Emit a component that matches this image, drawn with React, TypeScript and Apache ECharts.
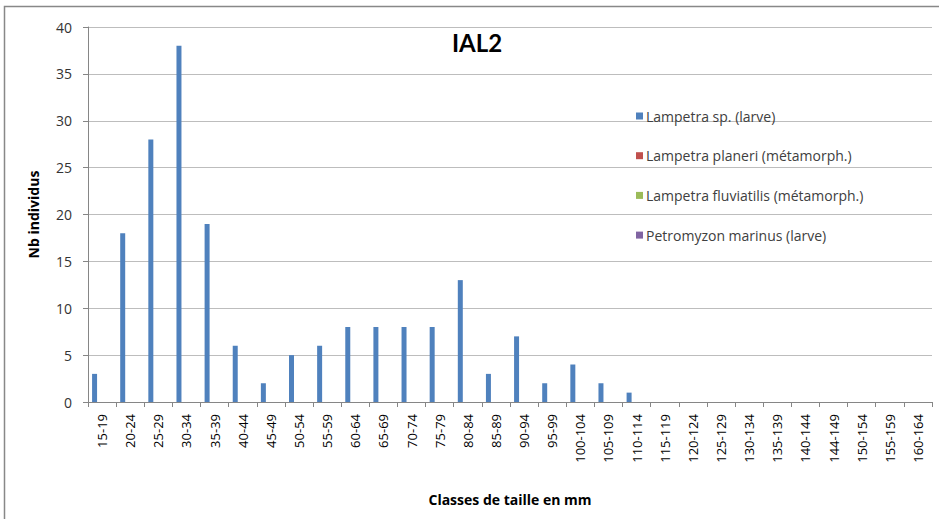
import React, { useEffect, useRef } from "react";
import * as echarts from "echarts";

const categories = [
  "15-19", "20-24", "25-29", "30-34", "35-39", "40-44", "45-49", "50-54", "55-59", "60-64",
  "65-69", "70-74", "75-79", "80-84", "85-89", "90-94", "95-99", "100-104", "105-109", "110-114",
  "115-119", "120-124", "125-129", "130-134", "135-139", "140-144", "144-149", "150-154", "155-159", "160-164",
];

const lampetraSpLarve = [3, 18, 28, 38, 19, 6, 2, 5, 6, 8, 8, 8, 8, 13, 3, 7, 2, 4, 2, 1, 0, 0, 0, 0, 0, 0, 0, 0, 0, 0];
const lampetraPlaneri = [0, 0, 0, 0, 0, 0, 0, 0, 0, 0, 0, 0, 0, 0, 0, 0, 0, 0, 0, 0, 0, 0, 0, 0, 0, 0, 0, 0, 0, 0];
const lampetraFluviatilis = [0, 0, 0, 0, 0, 0, 0, 0, 0, 0, 0, 0, 0, 0, 0, 0, 0, 0, 0, 0, 0, 0, 0, 0, 0, 0, 0, 0, 0, 0];
const petromyzonMarinus = [0, 0, 0, 0, 0, 0, 0, 0, 0, 0, 0, 0, 0, 0, 0, 0, 0, 0, 0, 0, 0, 0, 0, 0, 0, 0, 0, 0, 0, 0];

const seriesNames = [
  "Lampetra sp. (larve)",
  "Lampetra planeri (métamorph.)",
  "Lampetra fluviatilis (métamorph.)",
  "Petromyzon marinus (larve)",
];
const seriesColors = ["#4F81BD", "#C0504D", "#9BBB59", "#8064A2"];
const seriesData = [lampetraSpLarve, lampetraPlaneri, lampetraFluviatilis, petromyzonMarinus];

const FONT = "'Open Sans', 'Liberation Sans', sans-serif";
const TITLE_FONT = "Lato, 'Open Sans', sans-serif";

export default function App() {
  const ref = useRef<HTMLDivElement>(null);
  useEffect(() => {
    if (!ref.current) return;
    const chart = echarts.init(ref.current, null, { renderer: "svg" });
    chart.setOption({
      animation: false,
      backgroundColor: "#ffffff",
      textStyle: { fontFamily: FONT },
      graphic: [
        {
          type: "rect",
          shape: { x: 4.5, y: 6.5, width: 1000, height: 1000 },
          style: { fill: "none", stroke: "#888888", lineWidth: 1.5 },
          silent: true,
        },
        {
          type: "text",
          x: 477,
          y: 42,
          style: {
            text: "IAL2",
            fontFamily: TITLE_FONT,
            fontSize: 24,
            fontWeight: "bold",
            fill: "#000000",
            textAlign: "center",
            textVerticalAlign: "middle",
          },
        },
      ],
      legend: {
        orient: "vertical",
        left: 631,
        top: 102,
        itemWidth: 7,
        itemHeight: 7,
        itemGap: 21.7,
        icon: "rect",
        textStyle: { fontFamily: FONT, fontSize: 14, color: "#404040", lineHeight: 18, padding: [0, 0, 0, -2] },
        data: seriesNames,
      },
      grid: { left: 88, right: 7, top: 27, bottom: 117, containLabel: false },
      xAxis: {
        type: "category",
        data: categories,
        boundaryGap: true,
        name: "Classes de taille en mm",
        nameLocation: "middle",
        nameGap: 90,
        nameTextStyle: { fontFamily: FONT, fontSize: 14, fontWeight: "bold", color: "#000000" },
        axisLine: { show: true, lineStyle: { color: "#868686", width: 1 } },
        axisTick: { show: true, length: 5, alignWithLabel: false, lineStyle: { color: "#868686" } },
        axisLabel: { rotate: 90, fontSize: 13, color: "#000000", margin: 12, interval: 0, fontFamily: FONT },
        splitLine: { show: false },
      },
      yAxis: {
        type: "value",
        min: 0,
        max: 40,
        interval: 5,
        name: "Nb individus",
        nameLocation: "middle",
        nameGap: 48,
        nameTextStyle: { fontFamily: FONT, fontSize: 14, fontWeight: "bold", color: "#000000" },
        axisLine: { show: true, lineStyle: { color: "#868686", width: 1 } },
        axisTick: { show: true, length: 5, inside: false, lineStyle: { color: "#868686" } },
        axisLabel: { fontSize: 14, color: "#333333", margin: 16, fontFamily: FONT },
        splitLine: { show: true, lineStyle: { color: "#BDBDBD", width: 1.2 } },
      },
      series: seriesData.map((d, i) => ({
        name: seriesNames[i],
        type: "bar",
        data: d,
        barWidth: 5,
        barGap: "0%",
        itemStyle: { color: seriesColors[i] },
      })),
    });
    return () => chart.dispose();
  }, []);
  return (
    <div
      ref={ref}
      style={{ position: "absolute", left: 0, top: 0, width: 939, height: 519 }}
    />
  );
}
